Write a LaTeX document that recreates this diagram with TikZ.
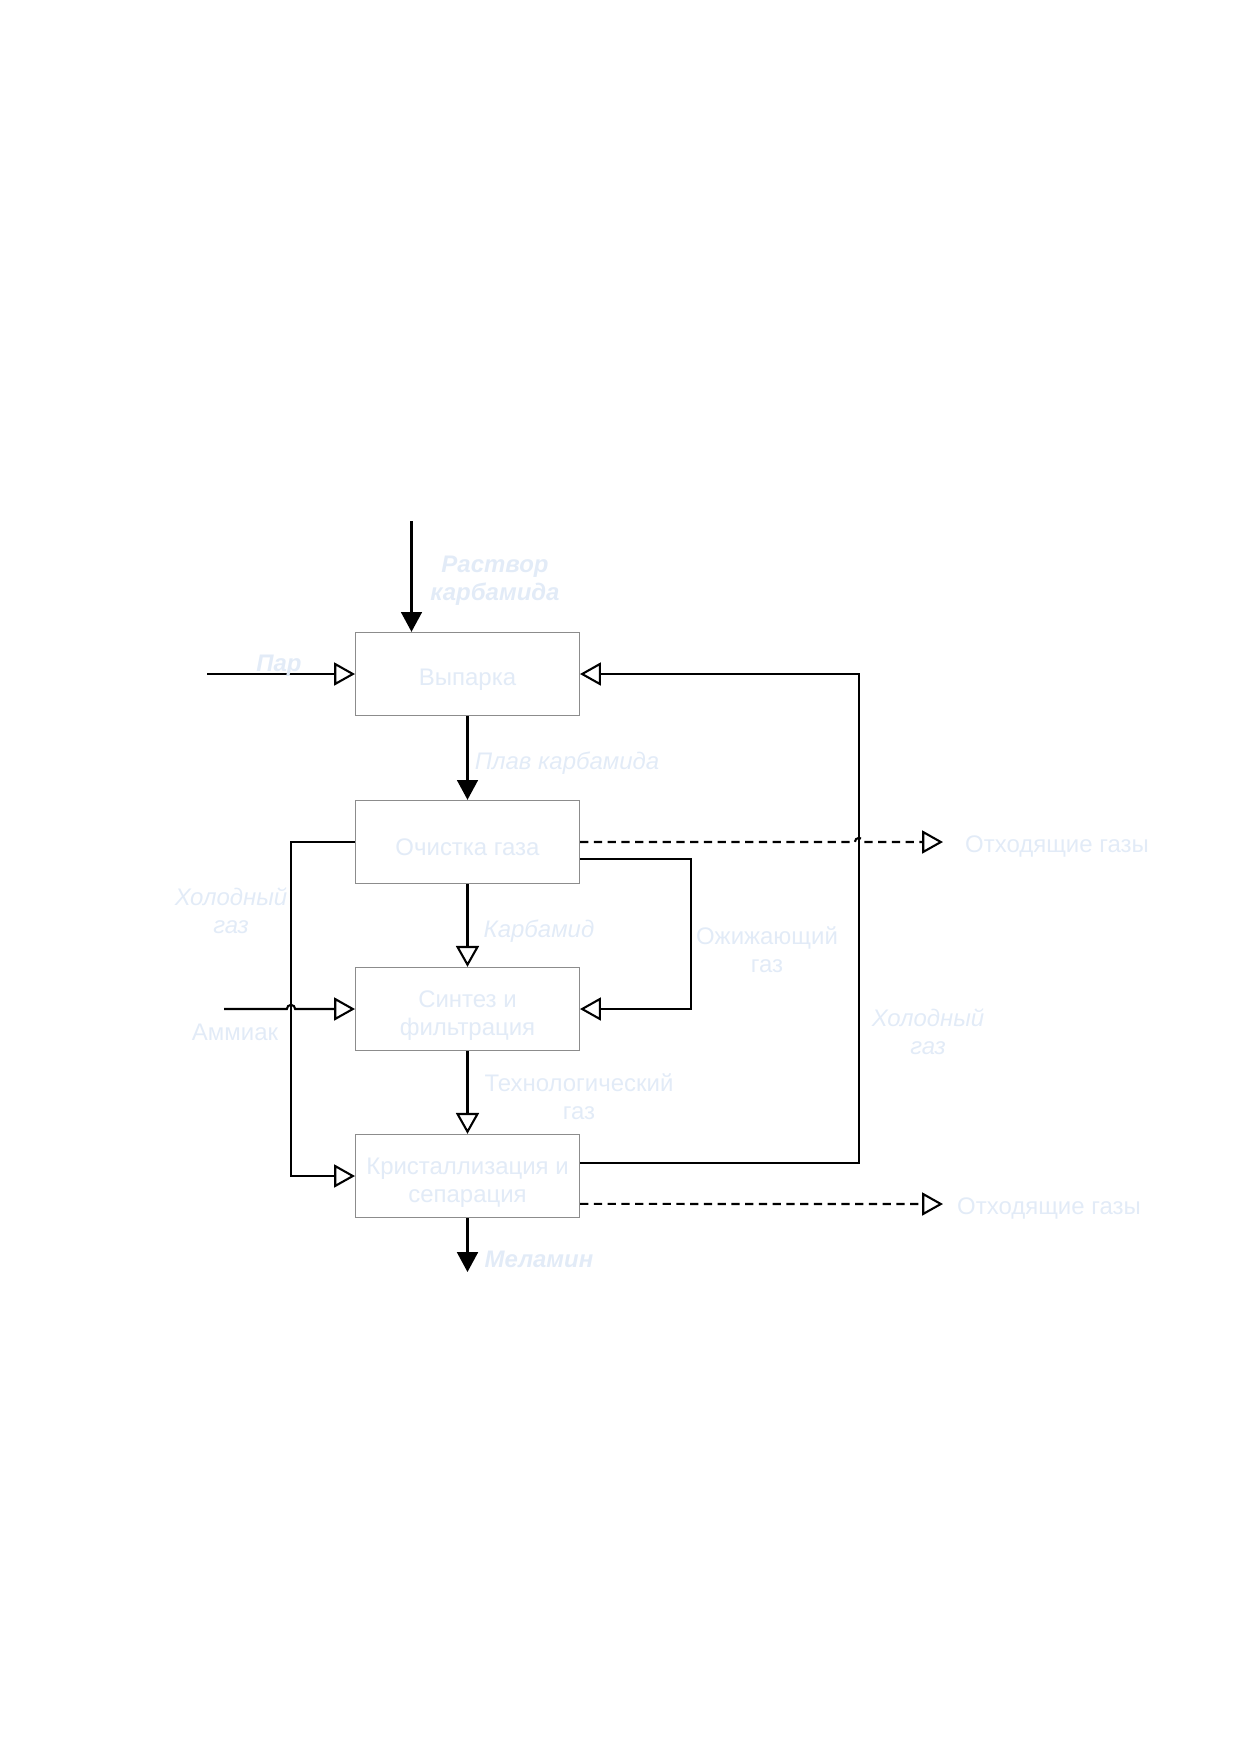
\documentclass[tikz,border=0pt]{standalone}
\usepackage{fontspec}
\setmainfont{Liberation Sans}
\usetikzlibrary{arrows.meta}

\definecolor{svet}{RGB}{226,235,247}
\definecolor{ramka}{RGB}{140,140,140}
\tikzset{
  blok/.style={draw=ramka,fill=white,line width=0.5pt,minimum width=107.5pt,minimum height=40pt,align=center,text=svet,inner sep=2pt,text height=#1},
  blok/.default=13.5pt,
  metka/.style={text=svet,align=center},
  potok/.style={line width=1pt,-{Triangle[open,length=10pt,width=11pt]}},
  vhod/.style={line width=1pt,-{Triangle[length=9.5pt,width=10pt]}},
}

\begin{document}
\begin{tikzpicture}[x=0.48pt,y=-0.48pt,font=\fontsize{11.5}{13.5}\selectfont]
      \useasboundingbox (0,0) rectangle (1240,1754);
      \draw
        (467.5,674) node[blok] (vyparka){Выпарка}
        (467.5,842) node[blok] (ochistka){Очистка газа}
        (467.5,1009) node[blok=27.5pt] (sintez){Синтез и\\фильтрация}
        (467.5,1176) node[blok=27.5pt] (kristal){Кристаллизация и\\сепарация};
      % free ends and turning lines
      \coordinate (rastvor) at (411.5,521);
      \coordinate (par) at (207,674);
      \coordinate (ammiak) at (224,1009);
      \coordinate (melamin) at (467.5,1272);
      \coordinate (otxod1) at (943,842);
      \coordinate (otxod2) at (943,1204);
      \coordinate (levo) at (291,0);
      \coordinate (petlya) at (691,0);
      \coordinate (pravo) at (859,0);
      \begin{scope}[vhod]
        \draw (rastvor) -- (rastvor |- vyparka.north);
        \draw (vyparka) -- (ochistka);
        \draw (kristal) -- (melamin);
      \end{scope}
      \begin{scope}[potok]
        \draw (par) -- (vyparka);
        \draw (ochistka) -- (sintez);
        \draw (sintez) -- (kristal);
        \draw (ochistka.west) -| (kristal.west -| levo) -- (kristal.west);
        \draw (ammiak) -- ([xshift=-2pt]ammiak -| levo) arc[start angle=180,end angle=0,radius=2pt] -- (sintez.west);
        \draw ([yshift=-8.2pt]ochistka.east) -| (sintez.east -| petlya) -- (sintez.east);
        \draw ([yshift=6.4pt]kristal.east) -| (vyparka.east -| pravo) -- (vyparka.east);
        \draw[dashed,dash pattern=on 4pt off 2.6pt] (ochistka.east) -- ([xshift=-2pt]ochistka.east -| pravo) arc[start angle=180,end angle=0,radius=2pt] -- (otxod1);
        \draw[dashed,dash pattern=on 4pt off 2.6pt] ([yshift=-13.4pt]kristal.east) -- (otxod2);
      \end{scope}
      % labels
      \draw
        (495,581) node[metka,font=\fontsize{11.5}{13.5}\selectfont\bfseries\itshape] (l-rastvor){Раствор\\карбамида}
        (279,666) node[metka,font=\fontsize{11.5}{13.5}\selectfont\bfseries\itshape] (l-par){Пар}
        (567,763) node[metka,font=\fontsize{11.5}{13.5}\selectfont\itshape] (l-plav){Плав карбамида}
        (1057,847) node[metka] (l-otxod1){Отходящие газы}
        (231,911) node[metka,font=\fontsize{11.5}{13.5}\selectfont\itshape] (l-holod1){Холодный\\газ}
        (539,931) node[metka,font=\fontsize{11.5}{13.5}\selectfont\itshape] (l-karbamid){Карбамид}
        (767,950) node[metka] (l-ozhizh){Ожижающий\\газ}
        (235,1032) node[metka] (l-ammiak){Аммиак}
        (928,1032) node[metka,font=\fontsize{11.5}{13.5}\selectfont\itshape] (l-holod2){Холодный\\газ}
        (579,1097) node[metka] (l-tehn){Технологический\\газ}
        (1049,1209) node[metka] (l-otxod2){Отходящие газы}
        (539,1259) node[metka,font=\fontsize{11.5}{13.5}\selectfont\bfseries\itshape] (l-melamin){Меламин};
    \end{tikzpicture}
\end{document}
